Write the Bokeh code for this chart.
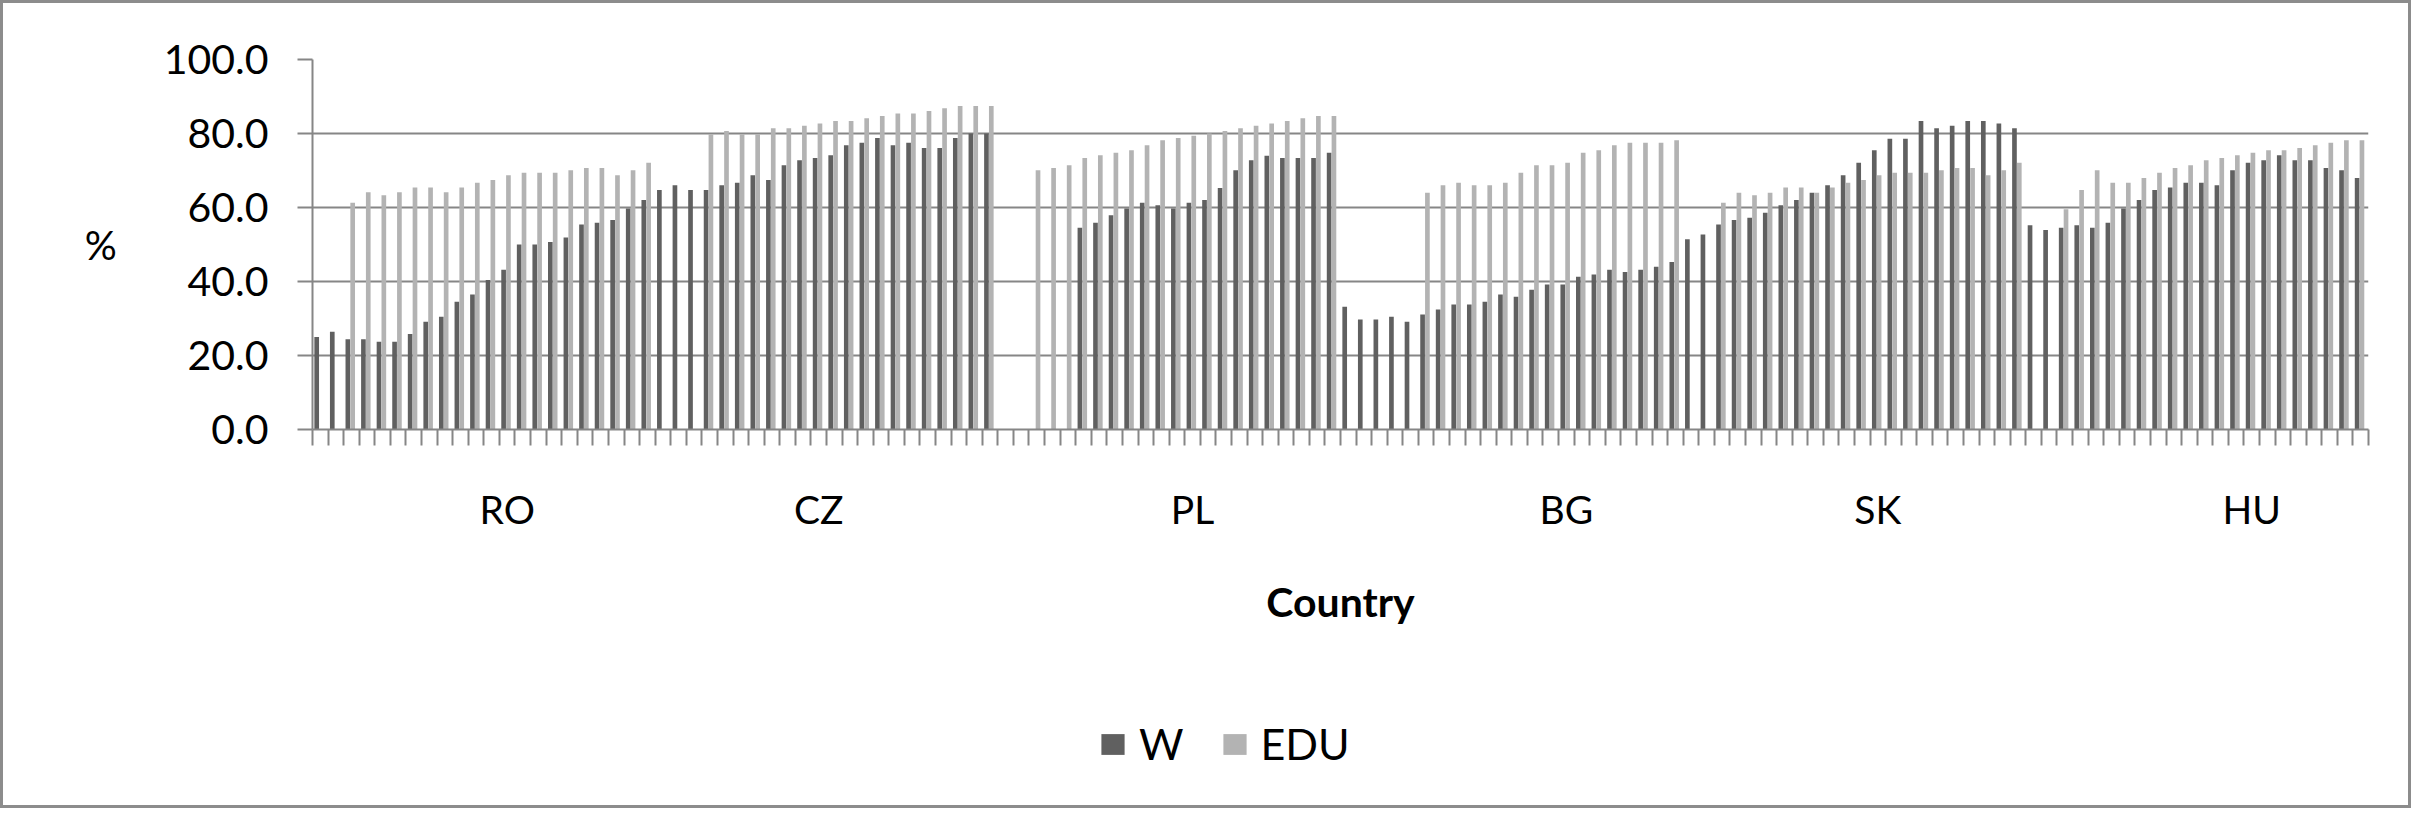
import math
from bokeh.plotting import figure
from bokeh.layouts import column
from bokeh.models import (ColumnDataSource, Range1d, FixedTicker, Legend,
                          NumeralTickFormatter)
from bokeh.embed import file_html
from bokeh.resources import INLINE

NA = float("nan")

# Category axis: 132 categories; a country name is shown under these 1-based categories
countries = ["RO", "CZ", "PL", "BG", "SK", "HU"]
country_category = [13, 33, 57, 81, 101, 125]

# Series values (%) per category, NA = no bar
w_values = [
    25.0, 26.4, 24.4, 24.4, 23.7, 23.7, 25.8, 29.1, 30.5, 34.5,
    36.5, 40.4, 43.2, 50.0, 50.0, 50.7, 51.9, 55.4, 55.9, 56.6,
    59.7, 62.0, 64.7, 66.0, 64.7, 64.7, 66.0, 66.7, 68.7, 67.4,
    71.4, 72.8, 73.4, 74.1, 76.8, 77.5, 78.8, 76.8, 77.5, 76.1,
    76.1, 78.8, 80.0, 80.0, NA, NA, NA, NA, NA, 54.5,
    55.9, 57.9, 59.7, 61.3, 60.6, 59.7, 61.3, 62.0, 65.3, 70.1,
    72.8, 74.0, 73.4, 73.4, 73.4, 74.8, 33.2, 29.7, 29.7, 30.5,
    29.1, 31.1, 32.4, 33.8, 33.8, 34.5, 36.5, 35.9, 37.8, 39.2,
    39.2, 41.3, 41.9, 43.2, 42.6, 43.2, 44.0, 45.3, 51.4, 52.7,
    55.4, 56.6, 57.2, 58.6, 60.6, 62.0, 64.0, 66.0, 68.7, 72.1,
    75.5, 78.6, 78.6, 83.4, 81.4, 82.1, 83.4, 83.4, 82.7, 81.4,
    55.2, 53.9, 54.5, 55.2, 54.5, 55.9, 59.7, 62.0, 64.7, 65.4,
    66.7, 66.7, 66.0, 70.1, 72.1, 72.8, 74.1, 72.8, 72.8, 70.7,
    70.1, 68.0,
]
edu_values = [
    NA, NA, 61.3, 64.1, 63.3, 64.1, 65.4, 65.4, 64.1, 65.4,
    66.7, 67.4, 68.7, 69.4, 69.4, 69.4, 70.1, 70.7, 70.7, 68.7,
    70.1, 72.1, NA, NA, NA, 79.8, 80.7, 79.8, 79.8, 81.4,
    81.4, 82.1, 82.7, 83.4, 83.4, 84.1, 84.7, 85.4, 85.4, 86.1,
    86.8, 87.4, 87.4, 87.4, NA, NA, 70.1, 70.7, 71.4, 73.4,
    74.1, 74.8, 75.5, 76.8, 78.2, 78.8, 79.4, 80.0, 80.7, 81.4,
    82.1, 82.7, 83.4, 84.1, 84.7, 84.7, NA, NA, NA, NA,
    NA, 64.0, 66.0, 66.7, 66.0, 66.0, 66.7, 69.4, 71.4, 71.4,
    72.1, 74.8, 75.5, 76.8, 77.5, 77.5, 77.5, 78.2, NA, NA,
    61.3, 64.0, 63.3, 64.0, 65.4, 65.4, 64.0, 65.4, 66.7, 67.4,
    68.7, 69.4, 69.4, 69.4, 70.1, 70.7, 70.7, 68.7, 70.1, 72.1,
    NA, NA, 59.5, 64.7, 70.1, 66.7, 66.7, 68.0, 69.4, 70.7,
    71.4, 72.8, 73.4, 74.1, 74.8, 75.5, 75.5, 76.1, 76.8, 77.5,
    78.2, 78.2,
]
y_ticks = [0, 20, 40, 60, 80, 100]
series_names = ["W", "EDU"]

n = len(w_values)
idx = list(range(n))

GRID = "#868686"
DARK = "#606060"
LIGHT = "#b3b3b3"
FONT = "Lato"

src = ColumnDataSource(dict(
    xw=[i + 0.27 for i in idx],
    xe=[i + 0.58 for i in idx],
    w=w_values,
    edu=edu_values,
))

W = 2405
H_MAIN = 660
H_LEG = 142
p = figure(width=W, height=H_MAIN, output_backend="svg", toolbar_location=None,
           x_range=Range1d(0, n), y_range=Range1d(0, 100),
           min_border_left=309, min_border_right=W - 2365,
           min_border_top=56, min_border_bottom=H_MAIN - 426,
           background_fill_color="white", border_fill_color="white")
p.outline_line_color = None

p.vbar(x="xw", top="w", width=0.3, bottom=0, source=src,
       fill_color=DARK, line_color=None)
p.vbar(x="xe", top="edu", width=0.3, bottom=0, source=src,
       fill_color=LIGHT, line_color=None)

# y axis
p.yaxis.ticker = FixedTicker(ticks=y_ticks)
p.yaxis.formatter = NumeralTickFormatter(format="0.0")
p.yaxis.axis_line_color = GRID
p.yaxis.axis_line_width = 2
p.yaxis.major_tick_line_color = GRID
p.yaxis.major_tick_line_width = 2
p.yaxis.major_tick_out = 15
p.yaxis.major_tick_in = 0
p.yaxis.minor_tick_line_color = None
p.yaxis.major_label_text_font = FONT
p.yaxis.major_label_text_font_size = "41px"
p.yaxis.major_label_text_color = "black"
p.yaxis.major_label_standoff = 29
p.yaxis.axis_label = "%"
p.yaxis.axis_label_orientation = "horizontal"
p.yaxis.axis_label_text_font = FONT
p.yaxis.axis_label_text_font_style = "normal"
p.yaxis.axis_label_text_font_size = "40px"
p.yaxis.axis_label_text_color = "black"
p.yaxis.axis_label_standoff = 44

# x axis: minor ticks at category boundaries, country names at category centres
label_ticks = [c - 0.5 for c in country_category]
p.xaxis.ticker = FixedTicker(ticks=label_ticks, minor_ticks=list(range(n + 1)))
p.xaxis.major_label_overrides = {t: name for t, name in zip(label_ticks, countries)}
p.xaxis.axis_line_color = GRID
p.xaxis.axis_line_width = 2
p.xaxis.major_tick_out = 0
p.xaxis.major_tick_in = 0
p.xaxis.major_tick_line_color = None
p.xaxis.minor_tick_out = 16
p.xaxis.minor_tick_in = 0
p.xaxis.minor_tick_line_color = GRID
p.xaxis.minor_tick_line_width = 2
p.xaxis.major_label_text_font = FONT
p.xaxis.major_label_text_font_size = "39px"
p.xaxis.major_label_text_color = "black"
p.xaxis.major_label_standoff = 40
p.xaxis.axis_label = "Country"
p.xaxis.axis_label_text_font = FONT
p.xaxis.axis_label_text_font_style = "bold"
p.xaxis.axis_label_text_font_size = "41px"
p.xaxis.axis_label_text_color = "black"
p.xaxis.axis_label_standoff = 42

p.xgrid.grid_line_color = None
p.ygrid.ticker = FixedTicker(ticks=y_ticks)
p.ygrid.grid_line_color = GRID
p.ygrid.grid_line_width = 2

# legend strip below the chart; its (zero-width) bars use the same data, out of view
lf = figure(width=W, height=H_LEG, output_backend="svg", toolbar_location=None,
            x_range=Range1d(1000, 1010), y_range=Range1d(1000, 1010),
            x_axis_type=None, y_axis_type=None,
            min_border=0, background_fill_color="white",
            border_fill_color="white")
lf.outline_line_color = None
lf.grid.grid_line_color = None
lw = lf.vbar(x="xw", top="w", width=0, bottom=0, source=src,
             fill_color=DARK, line_color=None)
le = lf.vbar(x="xe", top="edu", width=0, bottom=0, source=src,
             fill_color=LIGHT, line_color=None)
legend = Legend(items=[(series_names[0], [lw]), (series_names[1], [le])],
                location=(786, 36), orientation="horizontal",
                glyph_width=29, glyph_height=26, label_standoff=12,
                spacing=36, padding=0, margin=0,
                label_text_font=FONT, label_text_font_size="43px",
                label_text_color="black",
                border_line_color=None, background_fill_alpha=0)
lf.add_layout(legend)

layout = column(p, lf, spacing=0)
layout.styles = {"border": "3px solid #8c8c8c"}

open("out.html", "w").write(file_html(layout, INLINE))
